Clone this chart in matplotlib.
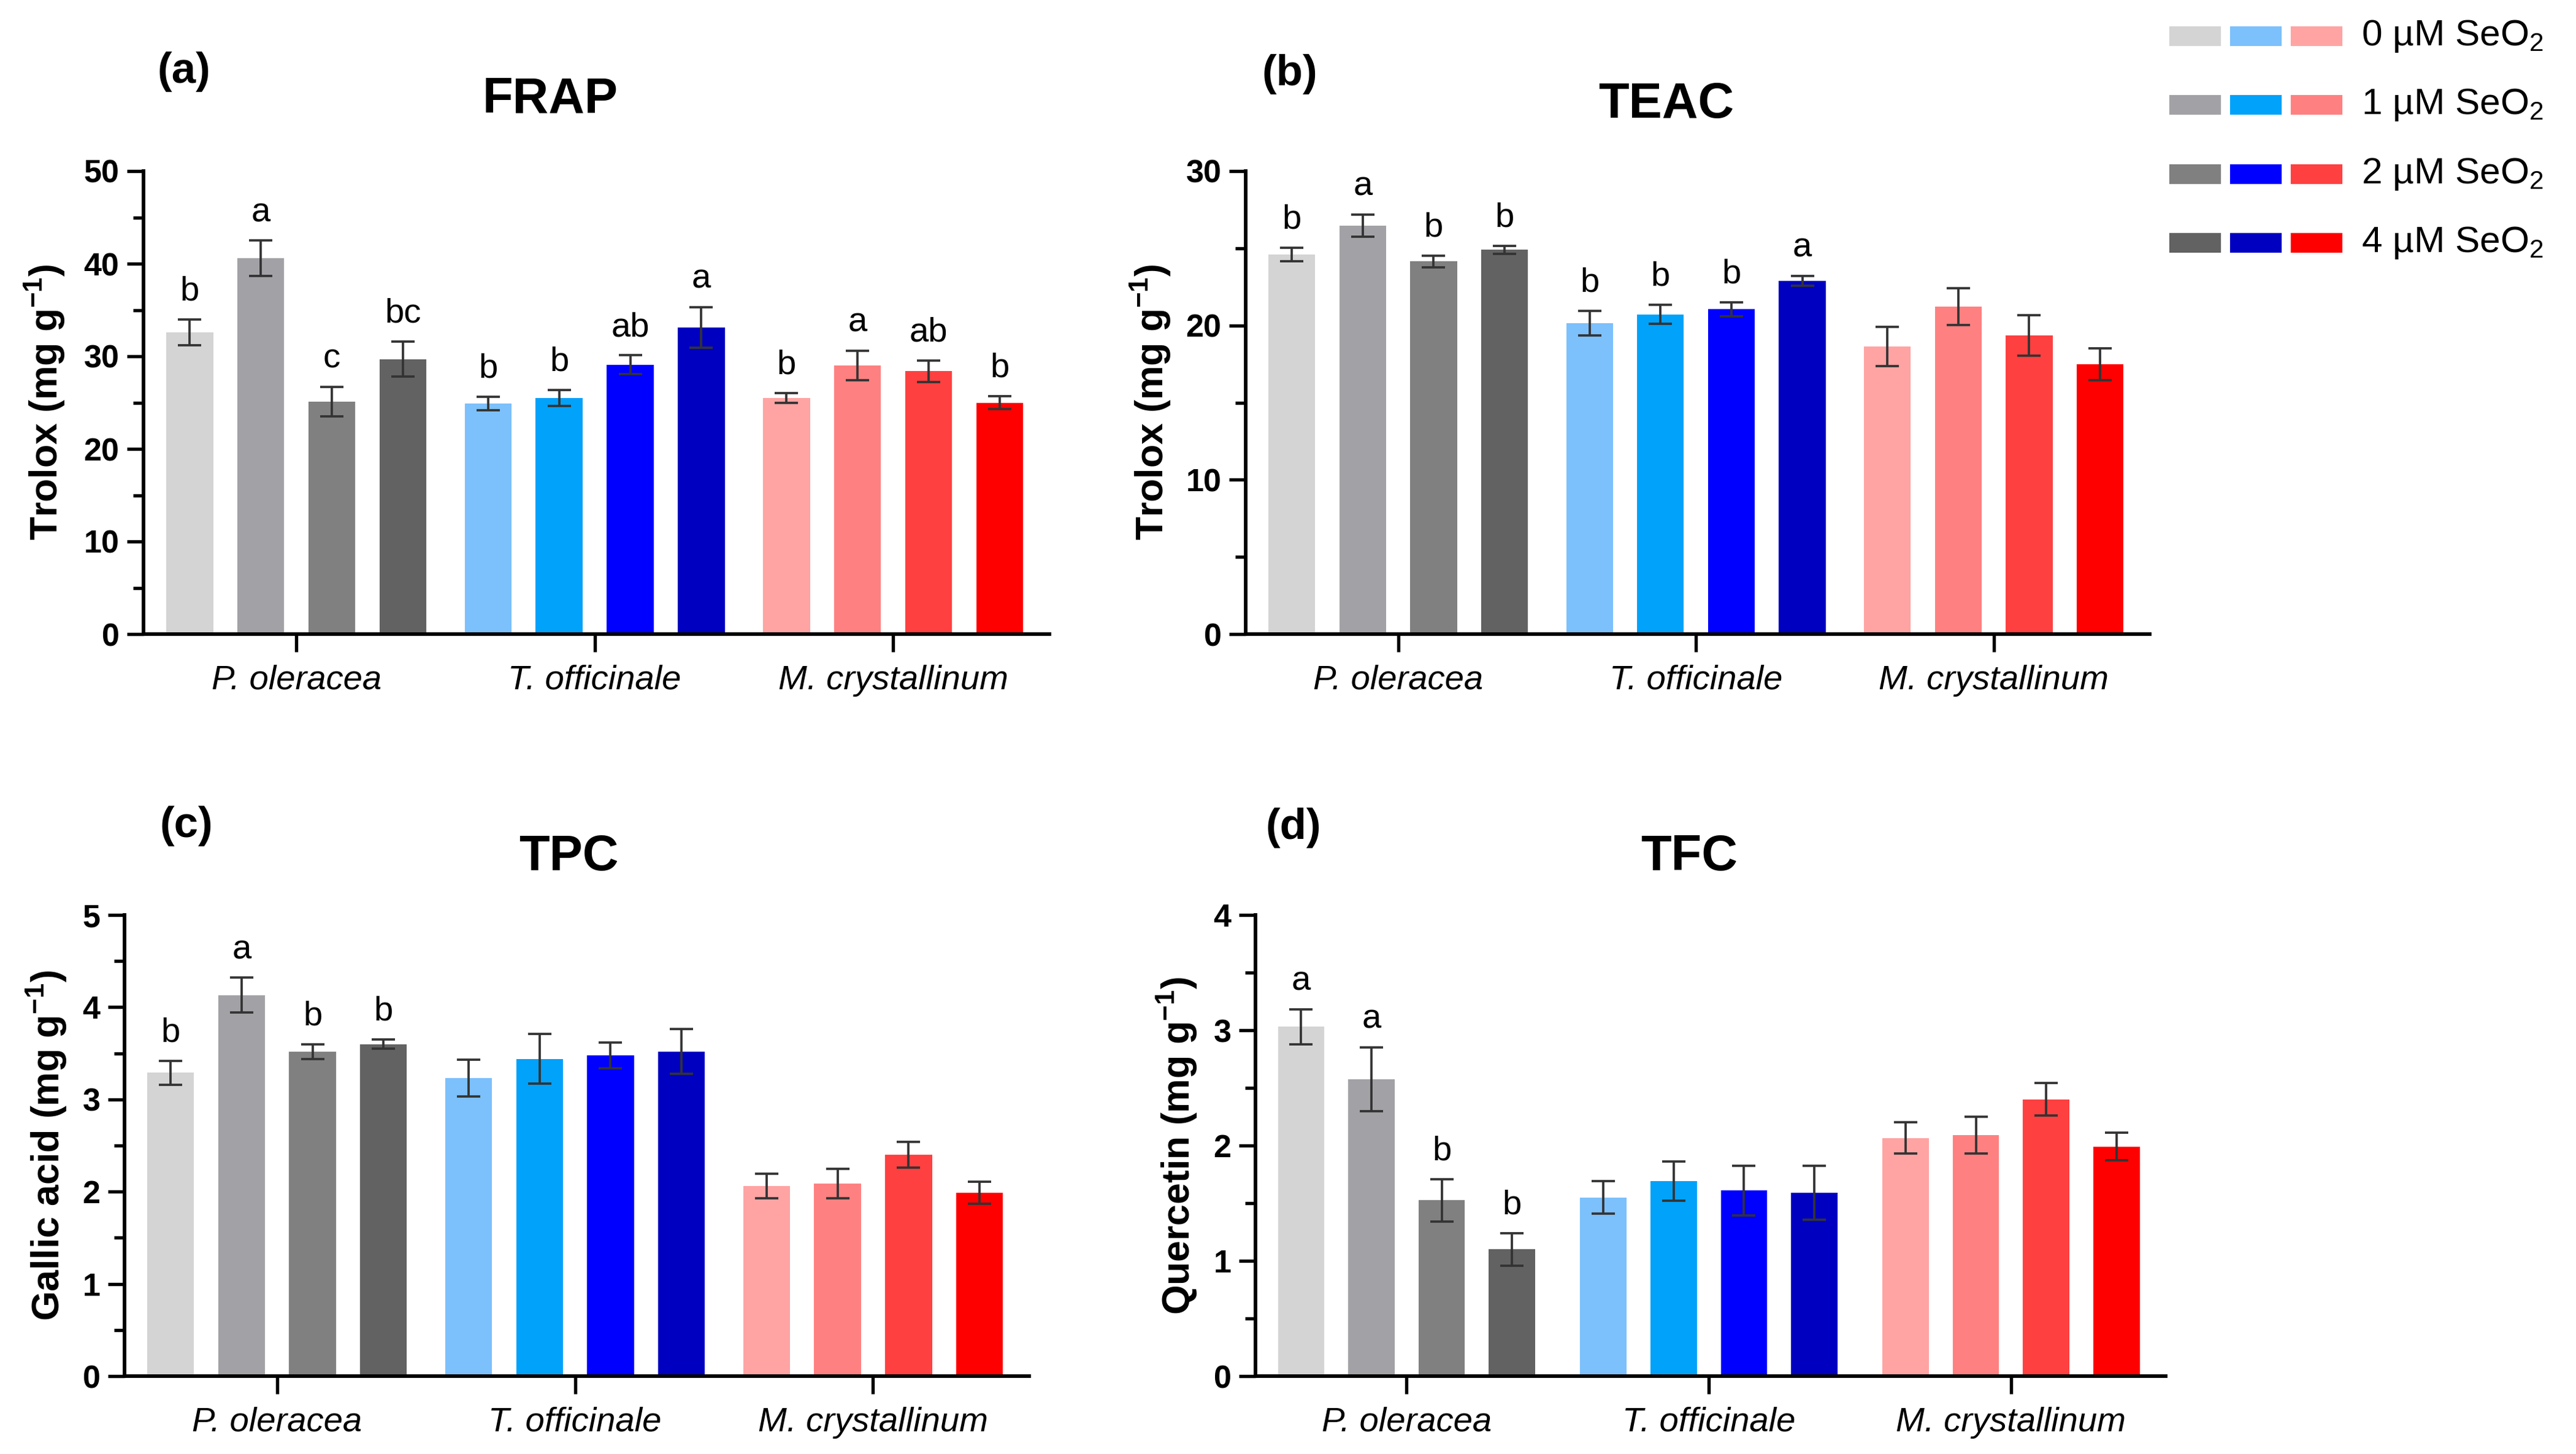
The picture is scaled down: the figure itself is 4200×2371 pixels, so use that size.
import numpy as np
import matplotlib.pyplot as plt
from matplotlib.ticker import MultipleLocator

plt.rcParams['font.family'] = ['Liberation Sans', 'DejaVu Sans']
plt.rcParams['mathtext.fontset'] = 'custom'
plt.rcParams['mathtext.rm'] = 'Liberation Sans'
plt.rcParams['mathtext.it'] = 'Liberation Sans:italic'
plt.rcParams['mathtext.bf'] = 'Liberation Sans:bold'

species = ['P. oleracea', 'T. officinale', 'M. crystallinum']
doses = ['0', '1', '2', '4']

grays = ['#d4d4d4', '#a2a2a6', '#808080', '#626262']
blues = ['#7cc0fc', '#00a2fa', '#0000ff', '#0000c0']
reds = ['#ffa3a3', '#ff8080', '#ff4040', '#ff0000']

# FRAP (Trolox mg/g)
frap_mean = [[32.6, 40.6, 25.1, 29.7], [24.9, 25.5, 29.1, 33.1], [25.5, 29.0, 28.4, 25.0]]
frap_err = [[1.4, 1.9, 1.6, 1.9], [0.75, 0.85, 1.0, 2.2], [0.55, 1.6, 1.15, 0.7]]
frap_let = [['b', 'a', 'c', 'bc'], ['b', 'b', 'ab', 'a'], ['b', 'a', 'ab', 'b']]

# TEAC (Trolox mg/g)
teac_mean = [[24.6, 26.45, 24.15, 24.9], [20.15, 20.72, 21.04, 22.88], [18.64, 21.23, 19.36, 17.49]]
teac_err = [[0.45, 0.72, 0.38, 0.27], [0.8, 0.62, 0.45, 0.32], [1.28, 1.19, 1.32, 1.03]]
teac_let = [['b', 'a', 'b', 'b'], ['b', 'b', 'b', 'a'], ['', '', '', '']]

# TPC (gallic acid mg/g)
tpc_mean = [[3.29, 4.13, 3.52, 3.6], [3.23, 3.44, 3.48, 3.52], [2.06, 2.09, 2.4, 1.99]]
tpc_err = [[0.13, 0.19, 0.08, 0.05], [0.2, 0.27, 0.14, 0.24], [0.135, 0.16, 0.14, 0.12]]
tpc_let = [['b', 'a', 'b', 'b'], ['', '', '', ''], ['', '', '', '']]

# TFC (quercetin mg/g)
tfc_mean = [[3.03, 2.575, 1.525, 1.1], [1.55, 1.69, 1.61, 1.59], [2.065, 2.09, 2.4, 1.99]]
tfc_err = [[0.15, 0.275, 0.185, 0.14], [0.14, 0.17, 0.215, 0.235], [0.135, 0.16, 0.14, 0.12]]
tfc_let = [['a', 'a', 'b', 'b'], ['', '', '', ''], ['', '', '', '']]

W, H = 4200, 2371
fig = plt.figure(figsize=(14, H / 300), dpi=300)

def px_rect(l, r, t, b):
    return [l / W, 1 - b / H, (r - l) / W, (b - t) / H]

panels = [
    dict(rect=px_rect(234, 1711, 279, 1034), mean=frap_mean, err=frap_err, let=frap_let,
         ymax=50, major=10, gap=4.2, title='FRAP', tpos=(897, 162), tag='(a)', tagpos=(300, 117),
         ylab=r'Trolox (mg g$^{\mathbf{-1}}$)', ylpos=(73, 656)),
    dict(rect=px_rect(2031, 3505, 279, 1034), mean=teac_mean, err=teac_err, let=teac_let,
         ymax=30, major=10, gap=4.2, title='TEAC', tpos=(2717, 171), tag='(b)', tagpos=(2103, 121),
         ylab=r'Trolox (mg g$^{\mathbf{-1}}$)', ylpos=(1876, 656)),
    dict(rect=px_rect(203, 1678, 1492, 2244), mean=tpc_mean, err=tpc_err, let=tpc_let,
         ymax=5, major=1, gap=4.2, title='TPC', tpos=(927, 1398), tag='(c)', tagpos=(304, 1347),
         ylab=r'Gallic acid (mg g$^{\mathbf{-1}}$)', ylpos=(76, 1868)),
    dict(rect=px_rect(2047, 3531, 1492, 2244), mean=tfc_mean, err=tfc_err, let=tfc_let,
         ymax=4, major=1, gap=4.3, title='TFC', tpos=(2754, 1398), tag='(d)', tagpos=(2109, 1350),
         ylab=r'Quercetin (mg g$^{\mathbf{-1}}$)', ylpos=(1919, 1868)),
]

palettes = [grays, blues, reds]

for p in panels:
    ax = fig.add_axes(p['rect'])
    centers = np.arange(3) * p['gap']
    for g in range(3):
        xs = centers[g] + np.arange(4) - 1.5
        ax.bar(xs, p['mean'][g], width=0.66, color=palettes[g], zorder=2)
        ax.errorbar(xs, p['mean'][g], yerr=p['err'][g], fmt='none', ecolor='#333333',
                    elinewidth=0.9, capsize=4.5, capthick=0.9, zorder=3)
        for x, m, e, t in zip(xs, p['mean'][g], p['err'][g], p['let'][g]):
            if t:
                ax.annotate(t, (x, m + e), xytext=(0, 7.5), textcoords='offset points',
                            ha='center', va='baseline', fontsize=13.5)
    ax.set_xlim(centers[0] - 2.15, centers[2] + 2.2)
    ax.set_ylim(0, p['ymax'])
    ax.set_xticks(centers)
    ax.set_xticklabels(species, fontstyle='italic', fontsize=13.5)
    ax.yaxis.set_major_locator(MultipleLocator(p['major']))
    ax.yaxis.set_minor_locator(MultipleLocator(p['major'] / 2))
    for lab in ax.get_yticklabels():
        lab.set_fontweight('bold')
        lab.set_fontsize(12.5)
    ax.tick_params(axis='y', which='major', length=6.5, width=1.3, pad=3)
    ax.tick_params(axis='y', which='minor', length=4, width=1.3)
    ax.tick_params(axis='x', which='major', length=7, width=1.3, pad=5)
    for s in ['top', 'right']:
        ax.spines[s].set_visible(False)
    for s in ['left', 'bottom']:
        ax.spines[s].set_linewidth(1.4)
    fig.text(p['tpos'][0] / W, 1 - p['tpos'][1] / H, p['title'], ha='center', va='center',
             fontsize=19.5, fontweight='bold')
    fig.text(p['tagpos'][0] / W, 1 - p['tagpos'][1] / H, p['tag'], ha='center', va='center',
             fontsize=17, fontweight='bold')
    fig.text(p['ylpos'][0] / W, 1 - p['ylpos'][1] / H, p['ylab'], ha='center', va='center',
             rotation=90, fontsize=15, fontweight='bold')

# legend: three swatches per dose, drawn in figure coords
sw_x = [3539, 3638, 3737]
row_y = [59, 171, 284, 396]
for i, d in enumerate(doses):
    for j, pal in enumerate(palettes):
        fig.patches.append(plt.Rectangle((sw_x[j] / W, 1 - (row_y[i] + 14) / H), 80 / W, 28 / H,
                                         transform=fig.transFigure, color=pal[i]))
    fig.text(3850 / W, 1 - row_y[i] / H, d + r' µM SeO$_2$', ha='left', va='center', fontsize=14.5)

fig.savefig('out.png', dpi=300)
